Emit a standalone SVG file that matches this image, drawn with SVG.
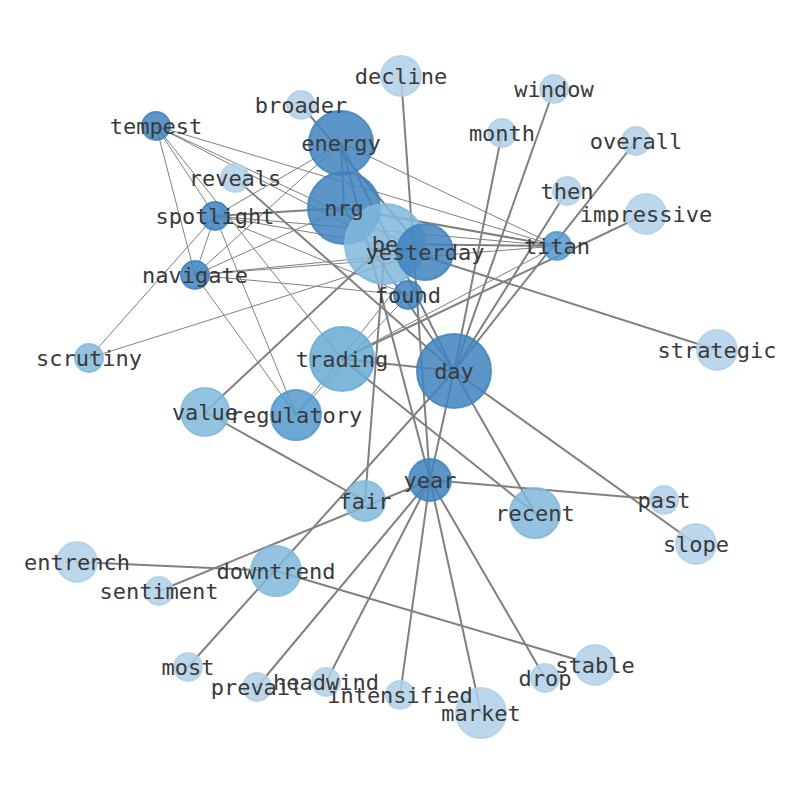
<svg xmlns="http://www.w3.org/2000/svg" width="794" height="790" viewBox="0 0 794 790">
<style>
.e{stroke:#808080;fill:none;stroke-linecap:round}
.t{stroke-width:2}
.n{stroke-width:1}
circle{stroke-width:2;fill-opacity:0.85;stroke-opacity:0.85}
.D{fill:#4083be;stroke:#4083be}
.MD{fill:#5499cd;stroke:#5499cd}
.M{fill:#69aad3;stroke:#69aad3}
.ML{fill:#81b9dc;stroke:#81b9dc}
.L{fill:#b0d0e8;stroke:#b0d0e8}
text{font-family:"DejaVu Sans Mono",monospace;font-size:22px;fill:#3a3a3a;text-anchor:middle;dominant-baseline:central}
</style>
<rect width="794" height="790" fill="#ffffff"/>
<g id="edges">
<!-- thick -->
<line class="e t" x1="401" y1="76" x2="430" y2="480"/>
<line class="e t" x1="301" y1="105" x2="425" y2="252"/>
<line class="e t" x1="235" y1="178" x2="454" y2="371"/>
<line class="e t" x1="502" y1="133" x2="454" y2="371"/>
<line class="e t" x1="554" y1="89" x2="454" y2="371"/>
<line class="e t" x1="567" y1="191" x2="454" y2="371"/>
<line class="e t" x1="636" y1="141" x2="454" y2="371"/>
<line class="e t" x1="646" y1="214" x2="342" y2="359"/>
<line class="e t" x1="215" y1="216" x2="344" y2="208"/>
<line class="e t" x1="344" y1="208" x2="557" y2="246"/>
<line class="e t" x1="344" y1="208" x2="454" y2="371"/>
<line class="e t" x1="341" y1="143" x2="454" y2="371"/>
<line class="e t" x1="341" y1="143" x2="430" y2="480"/>
<line class="e t" x1="341" y1="143" x2="344" y2="208"/>
<line class="e t" x1="385" y1="244" x2="557" y2="246"/>
<line class="e t" x1="385" y1="244" x2="717" y2="350"/>
<line class="e t" x1="385" y1="244" x2="205" y2="412"/>
<line class="e t" x1="385" y1="244" x2="365" y2="501"/>
<line class="e t" x1="342" y1="359" x2="454" y2="371"/>
<line class="e t" x1="342" y1="359" x2="535" y2="513"/>
<line class="e t" x1="454" y1="371" x2="535" y2="513"/>
<line class="e t" x1="454" y1="371" x2="696" y2="544"/>
<line class="e t" x1="454" y1="371" x2="188" y2="667"/>
<line class="e t" x1="454" y1="371" x2="430" y2="480"/>
<line class="e t" x1="159" y1="591" x2="430" y2="480"/>
<line class="e t" x1="430" y1="480" x2="664" y2="500"/>
<line class="e t" x1="430" y1="480" x2="257" y2="687"/>
<line class="e t" x1="430" y1="480" x2="326" y2="682"/>
<line class="e t" x1="430" y1="480" x2="400" y2="695"/>
<line class="e t" x1="430" y1="480" x2="481" y2="713"/>
<line class="e t" x1="430" y1="480" x2="545" y2="678"/>
<line class="e t" x1="205" y1="412" x2="365" y2="501"/>
<line class="e t" x1="77" y1="562" x2="276" y2="571"/>
<line class="e t" x1="276" y1="571" x2="595" y2="665"/>
<!-- thin -->
<line class="e n" x1="156" y1="126" x2="215" y2="216"/>
<line class="e n" x1="156" y1="126" x2="195" y2="275"/>
<line class="e n" x1="156" y1="126" x2="342" y2="359"/>
<line class="e n" x1="156" y1="126" x2="557" y2="246"/>
<line class="e n" x1="156" y1="126" x2="425" y2="252"/>
<line class="e n" x1="156" y1="126" x2="385" y2="244"/>
<line class="e n" x1="215" y1="216" x2="195" y2="275"/>
<line class="e n" x1="215" y1="216" x2="341" y2="143"/>
<line class="e n" x1="215" y1="216" x2="557" y2="246"/>
<line class="e n" x1="215" y1="216" x2="425" y2="252"/>
<line class="e n" x1="215" y1="216" x2="408" y2="295"/>
<line class="e n" x1="215" y1="216" x2="296" y2="415"/>
<line class="e n" x1="215" y1="216" x2="89" y2="358"/>
<line class="e n" x1="195" y1="275" x2="341" y2="143"/>
<line class="e n" x1="195" y1="275" x2="344" y2="208"/>
<line class="e n" x1="195" y1="275" x2="557" y2="246"/>
<line class="e n" x1="195" y1="275" x2="425" y2="252"/>
<line class="e n" x1="195" y1="275" x2="408" y2="295"/>
<line class="e n" x1="195" y1="275" x2="296" y2="415"/>
<line class="e n" x1="341" y1="143" x2="557" y2="246"/>
<line class="e n" x1="296" y1="415" x2="408" y2="295"/>
<line class="e n" x1="296" y1="415" x2="425" y2="252"/>
<line class="e n" x1="89" y1="358" x2="425" y2="252"/>
<line class="e n" x1="342" y1="359" x2="557" y2="246"/>
</g>
<g id="nodes">
<g id="n-decline"><circle class="L" cx="401" cy="76" r="20"/></g>
<g id="n-broader"><circle class="L" cx="301" cy="105" r="14"/></g>
<g id="n-window"><circle class="L" cx="554" cy="89" r="14"/></g>
<g id="n-month"><circle class="L" cx="502" cy="133" r="14"/></g>
<g id="n-overall"><circle class="L" cx="636" cy="141" r="14"/></g>
<g id="n-tempest"><circle class="D" cx="156" cy="126" r="14"/></g>
<g id="n-energy"><circle class="D" cx="341" cy="143" r="32"/></g>
<g id="n-reveals"><circle class="L" cx="235" cy="178" r="14"/></g>
<g id="n-then"><circle class="L" cx="567" cy="191" r="14"/></g>
<g id="n-impressive"><circle class="L" cx="646" cy="214" r="20"/></g>
<g id="n-spotlight"><circle class="D" cx="215" cy="216" r="14"/></g>
<g id="n-nrg"><circle class="D" cx="344" cy="208" r="36"/></g>
<g id="n-be"><circle class="ML" cx="385" cy="244" r="40"/></g>
<g id="n-yesterday"><circle class="D" cx="425" cy="252" r="28"/></g>
<g id="n-titan"><circle class="MD" cx="557" cy="246" r="14"/></g>
<g id="n-navigate"><circle class="D" cx="195" cy="275" r="14"/></g>
<g id="n-found"><circle class="D" cx="408" cy="295" r="14"/></g>
<g id="n-scrutiny"><circle class="ML" cx="89" cy="358" r="14"/></g>
<g id="n-trading"><circle class="M" cx="342" cy="359" r="32"/></g>
<g id="n-strategic"><circle class="L" cx="717" cy="350" r="20"/></g>
<g id="n-day"><circle class="D" cx="454" cy="371" r="37"/></g>
<g id="n-value"><circle class="ML" cx="205" cy="412" r="24"/></g>
<g id="n-regulatory"><circle class="MD" cx="296" cy="415" r="25"/></g>
<g id="n-year"><circle class="D" cx="430" cy="480" r="21"/></g>
<g id="n-fair"><circle class="ML" cx="365" cy="501" r="20"/></g>
<g id="n-past"><circle class="L" cx="664" cy="500" r="14"/></g>
<g id="n-recent"><circle class="ML" cx="535" cy="513" r="25"/></g>
<g id="n-slope"><circle class="L" cx="696" cy="544" r="20"/></g>
<g id="n-entrench"><circle class="L" cx="77" cy="562" r="20"/></g>
<g id="n-downtrend"><circle class="ML" cx="276" cy="571" r="25"/></g>
<g id="n-sentiment"><circle class="L" cx="159" cy="591" r="14"/></g>
<g id="n-stable"><circle class="L" cx="595" cy="665" r="20"/></g>
<g id="n-most"><circle class="L" cx="188" cy="667" r="14"/></g>
<g id="n-drop"><circle class="L" cx="545" cy="678" r="14"/></g>
<g id="n-prevail"><circle class="L" cx="257" cy="687" r="14"/></g>
<g id="n-headwind"><circle class="L" cx="326" cy="682" r="14"/></g>
<g id="n-intensified"><circle class="L" cx="400" cy="695" r="14"/></g>
<g id="n-market"><circle class="L" cx="481" cy="713" r="25"/></g>
</g>
<g id="labels">
<text x="401" y="76">decline</text>
<text x="301" y="105">broader</text>
<text x="554" y="89">window</text>
<text x="502" y="133">month</text>
<text x="636" y="141">overall</text>
<text x="156" y="126">tempest</text>
<text x="341" y="143">energy</text>
<text x="235" y="178">reveals</text>
<text x="567" y="191">then</text>
<text x="646" y="214">impressive</text>
<text x="215" y="216">spotlight</text>
<text x="344" y="208">nrg</text>
<text x="385" y="244">be</text>
<text x="425" y="252">yesterday</text>
<text x="557" y="246">titan</text>
<text x="195" y="275">navigate</text>
<text x="408" y="295">found</text>
<text x="89" y="358">scrutiny</text>
<text x="342" y="359">trading</text>
<text x="717" y="350">strategic</text>
<text x="454" y="371">day</text>
<text x="205" y="412">value</text>
<text x="296" y="415">regulatory</text>
<text x="430" y="480">year</text>
<text x="365" y="501">fair</text>
<text x="664" y="500">past</text>
<text x="535" y="513">recent</text>
<text x="696" y="544">slope</text>
<text x="77" y="562">entrench</text>
<text x="276" y="571">downtrend</text>
<text x="159" y="591">sentiment</text>
<text x="595" y="665">stable</text>
<text x="188" y="667">most</text>
<text x="545" y="678">drop</text>
<text x="257" y="687">prevail</text>
<text x="326" y="682">headwind</text>
<text x="400" y="695">intensified</text>
<text x="481" y="713">market</text>
</g>
</svg>
